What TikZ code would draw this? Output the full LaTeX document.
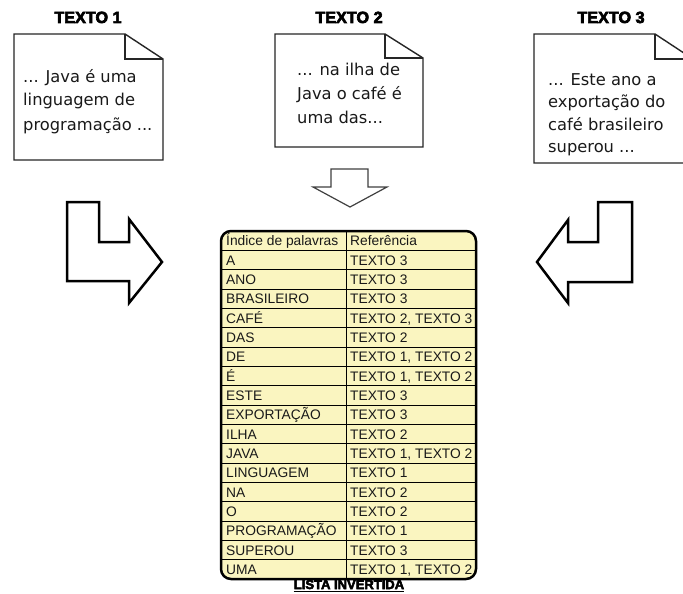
\documentclass[tikz,border=0pt]{standalone}
\usepackage{fontspec}
\setmainfont{Liberation Sans}
\newfontfamily\docfont{DejaVu Sans}
\newfontfamily\heavy[FakeBold=4]{Liberation Sans}
\definecolor{tabfill}{RGB}{250,245,192}
\tikzset{
  docbox/.style={draw=black!85, line width=1.4pt, fill=white, line join=miter},
  docfold/.style={draw=black!85, line width=1.1pt},
  doctext/.style={anchor=base west, inner sep=0pt, font=\docfont\fontsize{16.3}{18}\selectfont, text=black!90},
  titletext/.style={anchor=base, inner sep=0pt, font=\heavy\bfseries\fontsize{16.2}{18}\selectfont},
  bigarrow/.style={draw=black, line width=2.5pt, fill=white, line join=miter},
  smallarrow/.style={draw=black!75, line width=1.2pt, fill=white, line join=miter},
  tablebox/.style={draw=black, line width=2.5pt, rounded corners=10pt},
  rowline/.style={draw=black, line width=0.9pt},
  tabtext/.style={anchor=base west, inner sep=0pt, font=\fontsize{13.8}{15}\selectfont, text=black!90},
}
\newcommand\tabrow[3]{%
  \node[tabtext] (w#1) at (226,{231+#1*19.333+14.8}) {#2};
  \node[tabtext] (r#1) at (350,{231+#1*19.333+14.8}) {#3};
}
\begin{document}
\begin{tikzpicture}[x=1pt,y=-1pt]
\useasboundingbox (0,0) rectangle (683,594);
\clip (0,0) rectangle (683,594);
\fill[white] (0,0) rectangle (683,594);

% titles
\node[titletext] (t1) at (88,23) {TEXTO 1};
\node[titletext] (t2) at (349,23) {TEXTO 2};
\node[titletext] (t3) at (611,23) {TEXTO 3};

% document 1
\draw[docbox] (14,34) -- (125,34) -- (163,59) -- (163,160) -- (14,160) -- cycle;
\draw[docfold] (125,34) -- (125,59) -- (163,59);
\node[doctext] (d1a) at (23,82) {... Java é uma};
\node[doctext] (d1b) at (23,106) {linguagem de};
\node[doctext] (d1c) at (23,130) {programação ...};

% document 2
\draw[docbox] (275,34) -- (385,34) -- (423,58) -- (423,147) -- (275,147) -- cycle;
\draw[docfold] (385,34) -- (385,58) -- (423,58);
\node[doctext] (d2a) at (297,76) {... na ilha de};
\node[doctext] (d2b) at (297,99.5) {Java o café é};
\node[doctext] (d2c) at (297,123) {uma das...};

% document 3
\draw[docbox] (534,34) -- (655,34) -- (693,59) -- (693,163) -- (534,163) -- cycle;
\draw[docfold] (655,34) -- (655,59) -- (693,59);
\node[doctext] (d3a) at (548,85) {... Este ano a};
\node[doctext] (d3b) at (548,107.5) {exportação do};
\node[doctext] (d3c) at (548,130) {café brasileiro};
\node[doctext] (d3d) at (548,152.5) {superou ...};

% arrows
\draw[bigarrow] (67,202) -- (99,202) -- (99,242) -- (129,242) -- (129,219) -- (162,262) -- (129,303) -- (129,281) -- (67,281) -- cycle;
\draw[bigarrow] (632,202) -- (598,202) -- (598,242) -- (568,242) -- (568,220) -- (537,262) -- (568,303) -- (568,282) -- (632,282) -- cycle;
\draw[smallarrow] (331,169) -- (368,169) -- (368,187) -- (387,187) -- (350,207) -- (313,187) -- (331,187) -- cycle;

% table
\fill[tabfill, rounded corners=10pt] (221,231) rectangle (476,579);
\foreach \i in {1,...,17} \draw[rowline] (221,{231+\i*19.333}) -- (476,{231+\i*19.333});
\draw[rowline] (346,231) -- (346,579);
\draw[tablebox] (221,231) rectangle (476,579);

\tabrow{0}{Índice de palavras}{Referência}
\tabrow{1}{A}{TEXTO 3}
\tabrow{2}{ANO}{TEXTO 3}
\tabrow{3}{BRASILEIRO}{TEXTO 3}
\tabrow{4}{CAFÉ}{TEXTO 2, TEXTO 3}
\tabrow{5}{DAS}{TEXTO 2}
\tabrow{6}{DE}{TEXTO 1, TEXTO 2}
\tabrow{7}{É}{TEXTO 1, TEXTO 2}
\tabrow{8}{ESTE}{TEXTO 3}
\tabrow{9}{EXPORTAÇÃO}{TEXTO 3}
\tabrow{10}{ILHA}{TEXTO 2}
\tabrow{11}{JAVA}{TEXTO 1, TEXTO 2}
\tabrow{12}{LINGUAGEM}{TEXTO 1}
\tabrow{13}{NA}{TEXTO 2}
\tabrow{14}{O}{TEXTO 2}
\tabrow{15}{PROGRAMAÇÃO}{TEXTO 1}
\tabrow{16}{SUPEROU}{TEXTO 3}
\tabrow{17}{UMA}{TEXTO 1, TEXTO 2}

% caption
\node[anchor=base, inner sep=0pt, font=\heavy\bfseries\fontsize{13}{14}\selectfont] (lista) at (349,589) {LISTA INVERTIDA};
\draw[line width=1.6pt] ([yshift=-2.6pt]lista.base west) -- ([yshift=-2.6pt]lista.base east);
\end{tikzpicture}
\end{document}
